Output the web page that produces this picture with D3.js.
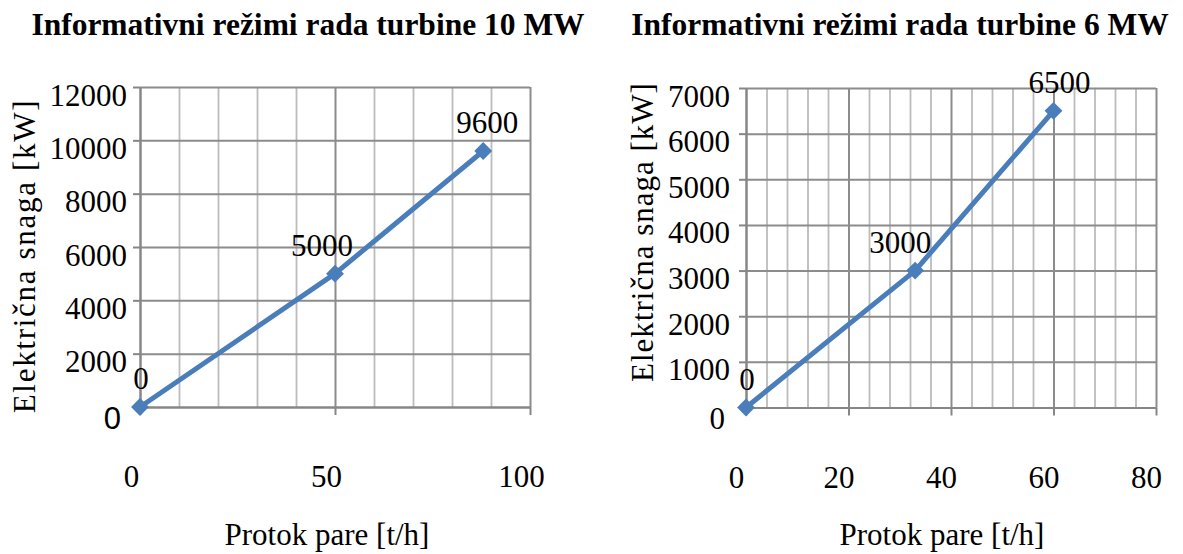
<!DOCTYPE html>
<html>
<head>
<meta charset="utf-8">
<script src="https://cdn.jsdelivr.net/npm/d3@7"></script>
<style>
  html, body { margin: 0; padding: 0; background: #ffffff; }
  svg { display: block; }
</style>
</head>
<body>
<svg id="chart" width="1183" height="554"></svg>
<script>
// Turbine 10 MW: steam flow [t/h] vs. electric power [kW]
const flow10 = [0, 50, 88];
const power10 = [0, 5000, 9600];
const xTicks10 = [0, 50, 100];
const yTicks10 = [0, 2000, 4000, 6000, 8000, 10000, 12000];

// Turbine 6 MW
const flow6 = [0, 33, 60];
const power6 = [0, 3000, 6500];
const xTicks6 = [0, 20, 40, 60, 80];
const yTicks6 = [0, 1000, 2000, 3000, 4000, 5000, 6000, 7000];

const titles = ["Informativni režimi rada turbine 10 MW", "Informativni režimi rada turbine 6 MW"];
const xTitle = "Protok pare [t/h]";
const yTitle = "Električna snaga [kW]";

const SERIF = '"Liberation Serif", "Times New Roman", serif';
const SANS = '"Liberation Sans", Arial, sans-serif';
const FONT = 31;
const BLUE = "#4a7ebb";

const svg = d3.select("#chart").attr("font-family", SERIF);

const charts = [
  {
    title: titles[0], flow: flow10, power: power10, xTicks: xTicks10, yTicks: yTicks10,
    minorStep: 10,
    plot: { left: 140, right: 530, top: 87, bottom: 407 },
    yLabelGap: 13, xLabelShift: -9,
    titleX: 308, yTitleX: 35, yTitleY: 256, yTitleSpacing: 1.7, xTitleX: 327,
    zeroFont: SANS, zeroShift: { dx: -6, dy: 3 },
    nudge: [1, -13, 4]
  },
  {
    title: titles[1], flow: flow6, power: power6, xTicks: xTicks6, yTicks: yTicks6,
    minorStep: 4,
    plot: { left: 746, right: 1156, top: 88, bottom: 407.5 },
    yLabelGap: 16, xLabelShift: -10,
    titleX: 900, yTitleX: 653, yTitleY: 232, yTitleSpacing: 1.0, xTitleX: 942,
    zeroFont: SERIF, zeroShift: { dx: -5, dy: 3 },
    nudge: [1, -15, 6]
  }
];

charts.forEach(c => {
  const p = c.plot;
  const w = p.right - p.left, h = p.bottom - p.top;
  const x = d3.scaleLinear().domain([c.xTicks[0], c.xTicks[c.xTicks.length - 1]]).range([p.left, p.right]);
  const y = d3.scaleLinear().domain([c.yTicks[0], c.yTicks[c.yTicks.length - 1]]).range([p.bottom, p.top]);

  // chart title
  svg.append("text")
    .attr("x", c.titleX).attr("y", 35)
    .attr("text-anchor", "middle")
    .style("font-family", SERIF)
    .style("font-size", "31.5px").style("font-weight", "bold")
    .text(c.title);

  // minor vertical gridlines
  const minorVals = d3.range(x.domain()[0], x.domain()[1] + 1e-9, c.minorStep)
    .filter(v => !c.xTicks.includes(v));
  svg.append("g")
    .attr("transform", `translate(0,${p.bottom})`)
    .call(d3.axisBottom(x).tickValues(minorVals).tickSize(-h).tickFormat(""))
    .call(g => g.select(".domain").remove())
    .call(g => g.selectAll("line").attr("stroke", "#bcbcbc").attr("stroke-width", 1.8));

  // major vertical gridlines
  svg.append("g")
    .attr("transform", `translate(0,${p.bottom})`)
    .call(d3.axisBottom(x).tickValues(c.xTicks).tickSize(-h).tickFormat(""))
    .call(g => g.select(".domain").remove())
    .call(g => g.selectAll("line").attr("stroke", "#8c8c8c").attr("stroke-width", 2));

  // major horizontal gridlines
  svg.append("g")
    .attr("transform", `translate(${p.left},0)`)
    .call(d3.axisLeft(y).tickValues(c.yTicks).tickSize(-w).tickFormat(""))
    .call(g => g.select(".domain").remove())
    .call(g => g.selectAll("line").attr("stroke", "#8c8c8c").attr("stroke-width", 2));

  // x axis
  svg.append("g")
    .attr("transform", `translate(0,${p.bottom})`)
    .call(d3.axisBottom(x).tickValues(c.xTicks).tickSize(8).tickSizeOuter(0).tickFormat(d3.format("d")))
    .attr("font-family", SERIF).attr("font-size", FONT)
    .call(g => g.select(".domain").attr("stroke", "#868686").attr("stroke-width", 2))
    .call(g => g.selectAll("line").attr("stroke", "#868686").attr("stroke-width", 2))
    .call(g => g.selectAll("text")
      .attr("y", 80).attr("dy", 0).attr("x", c.xLabelShift)
      .style("font-family", SERIF).style("font-size", FONT + "px").attr("fill", "#000"));

  // y axis
  svg.append("g")
    .attr("transform", `translate(${p.left},0)`)
    .call(d3.axisLeft(y).tickValues(c.yTicks).tickSize(7).tickSizeOuter(0).tickFormat(d3.format("d")))
    .attr("font-family", SERIF).attr("font-size", FONT)
    .call(g => g.select(".domain").attr("stroke", "#868686").attr("stroke-width", 2))
    .call(g => g.selectAll("line").attr("stroke", "#868686").attr("stroke-width", 2))
    .call(g => g.selectAll("text")
      .attr("x", -c.yLabelGap).attr("y", 18).attr("dy", 0)
      .style("font-family", SERIF).style("font-size", FONT + "px").attr("fill", "#000"))
    .call(g => g.selectAll(".tick").filter(d => d === 0).select("text")
      .attr("x", -c.yLabelGap + c.zeroShift.dx).attr("y", 18 + c.zeroShift.dy)
      .style("font-family", c.zeroFont));

  // axis titles
  svg.append("text")
    .attr("x", c.xTitleX).attr("y", 545)
    .attr("text-anchor", "middle")
    .style("font-family", SERIF)
    .style("font-size", FONT + "px")
    .text(xTitle);
  svg.append("text")
    .attr("transform", `translate(${c.yTitleX},${c.yTitleY}) rotate(-90)`)
    .attr("text-anchor", "middle")
    .style("font-family", SERIF)
    .style("font-size", FONT + "px")
    .style("letter-spacing", c.yTitleSpacing + "px")
    .text(yTitle);

  // series line
  const pts = c.flow.map((f, i) => [f, c.power[i]]);
  svg.append("path")
    .datum(pts)
    .attr("fill", "none")
    .attr("stroke", BLUE)
    .attr("stroke-width", 5)
    .attr("stroke-linejoin", "round")
    .attr("d", d3.line().x(d => x(d[0])).y(d => y(d[1])));

  // diamond markers
  svg.append("g").selectAll("path")
    .data(pts)
    .join("path")
    .attr("transform", d => `translate(${x(d[0])},${y(d[1])}) rotate(45)`)
    .attr("d", d3.symbol(d3.symbolSquare, 160))
    .attr("fill", BLUE);

  // data labels
  svg.append("g").selectAll("text")
    .data(pts)
    .join("text")
    .attr("x", (d, i) => x(d[0]) + c.nudge[i])
    .attr("y", d => y(d[1]) - 18)
    .attr("text-anchor", "middle")
    .style("font-family", SERIF)
    .style("font-size", FONT + "px")
    .text(d => d[1]);
});
</script>
</body>
</html>
